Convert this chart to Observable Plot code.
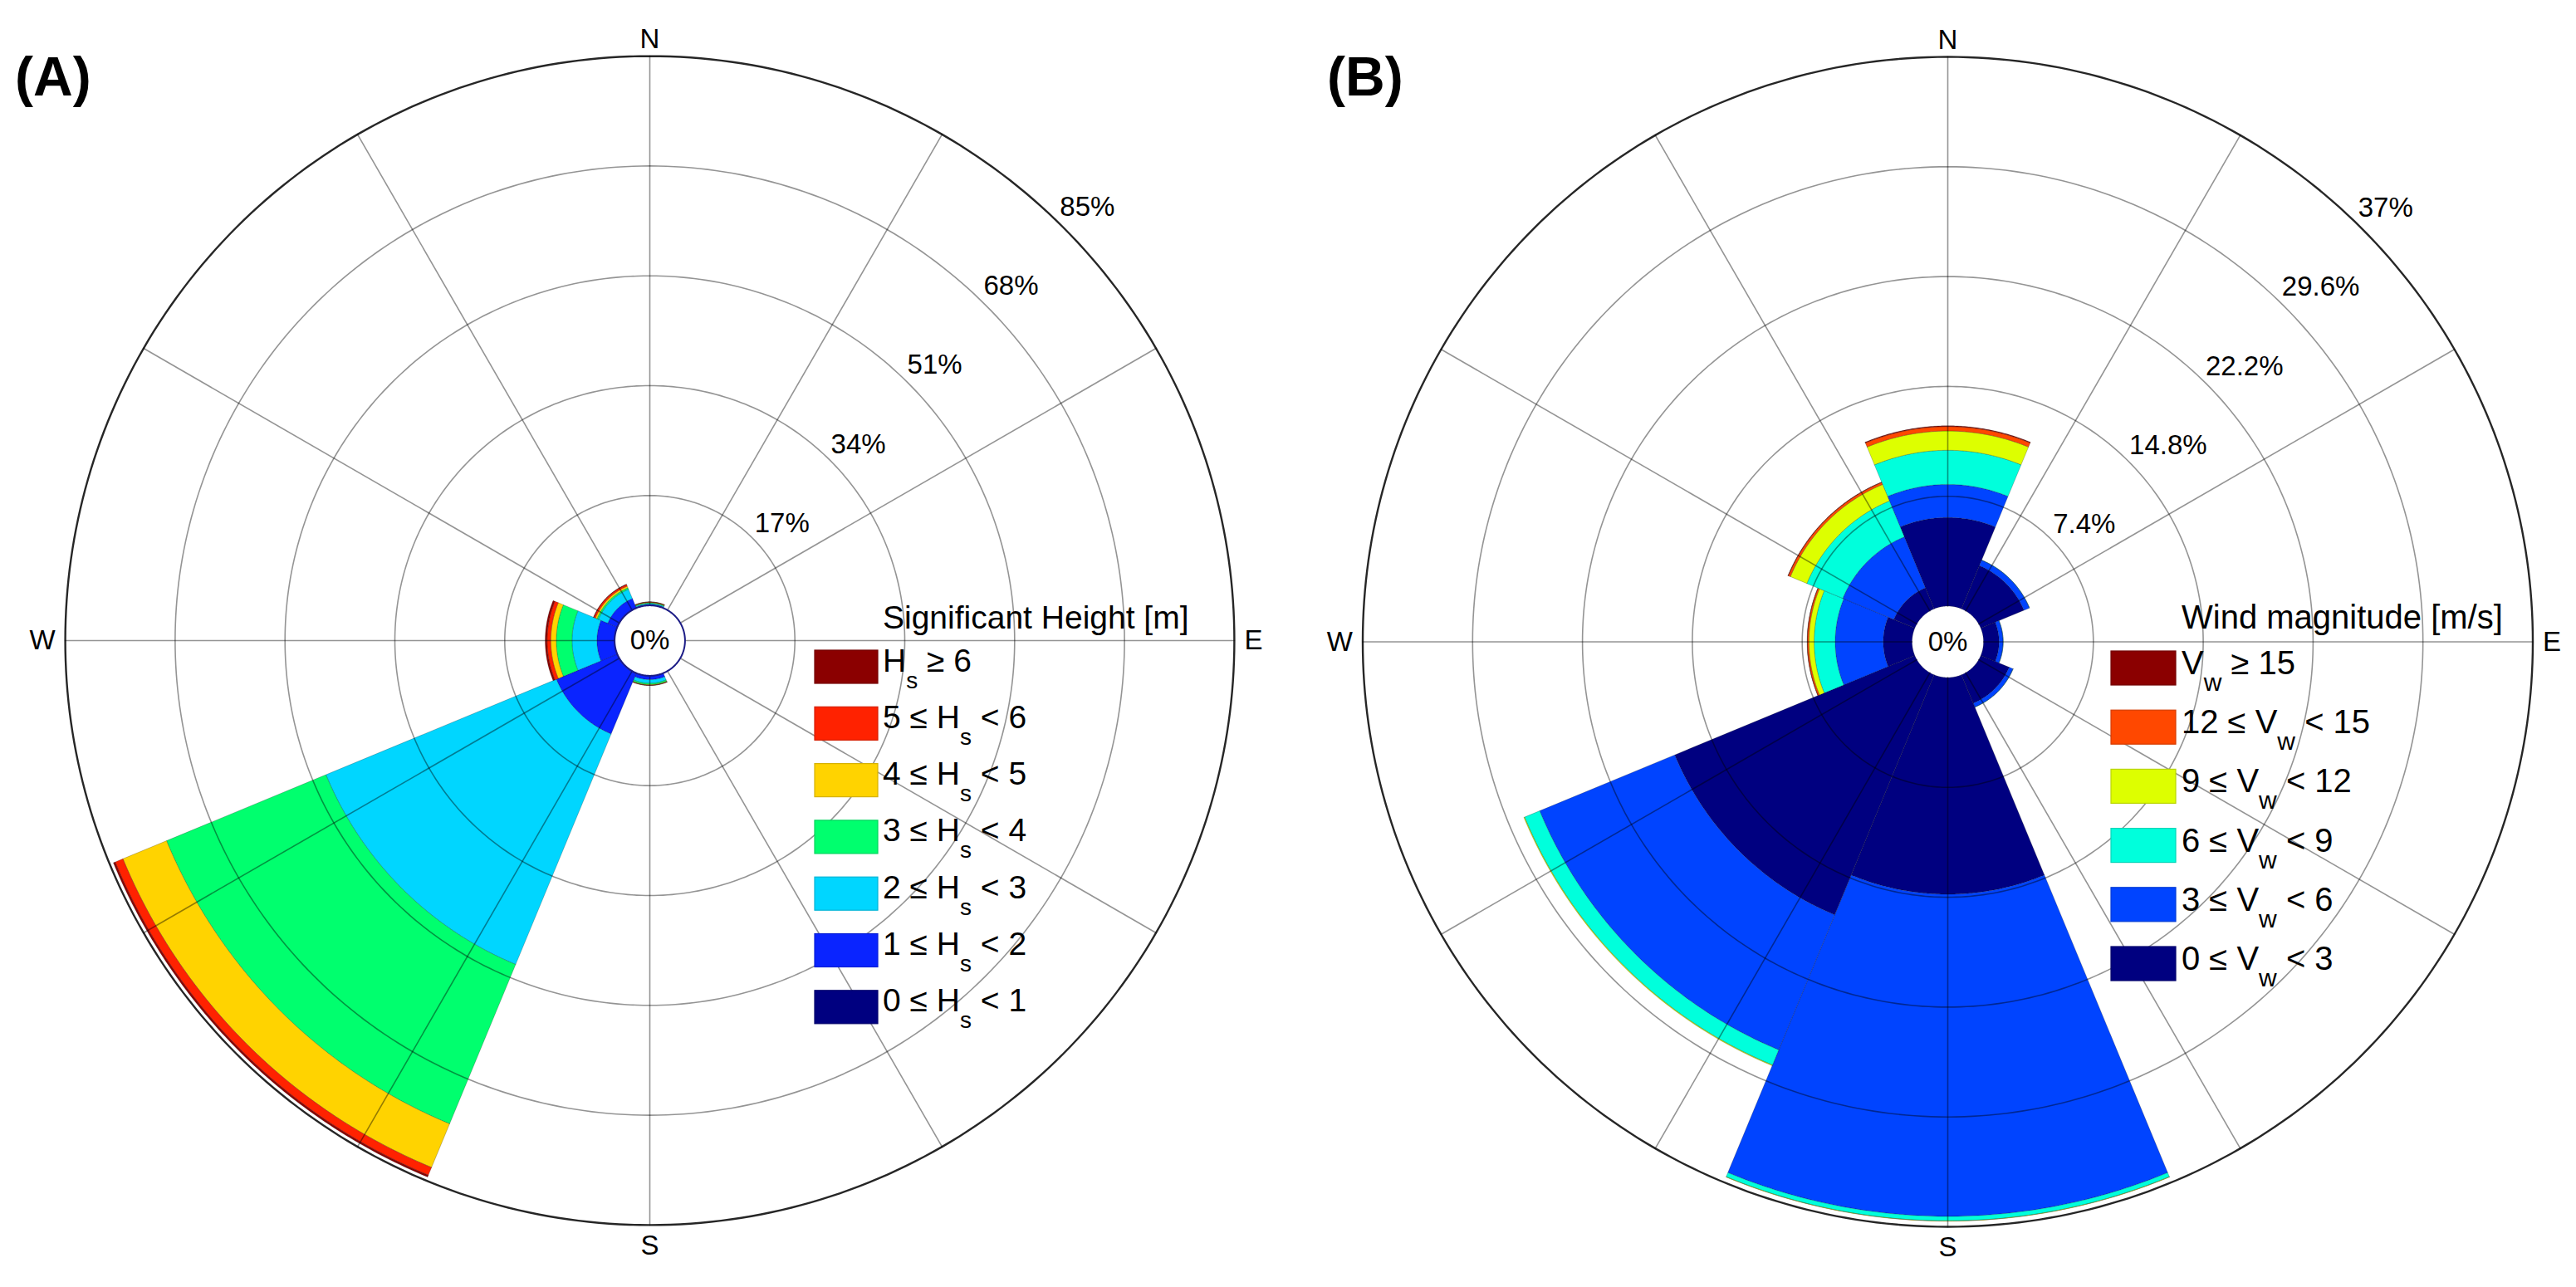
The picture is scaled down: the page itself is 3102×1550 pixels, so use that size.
<!DOCTYPE html>
<html>
<head>
<meta charset="utf-8">
<script src="https://cdn.jsdelivr.net/npm/d3@7"></script>
<script src="https://cdn.jsdelivr.net/npm/@observablehq/plot@0.6"></script>
<style>
  html, body { margin: 0; padding: 0; background: #fff; }
  #wrap { position: relative; width: 3102px; height: 1550px; overflow: hidden; background: #fff; }
  #wrap > svg { position: absolute; top: 0; }
</style>
</head>
<body>
<div id="wrap"></div>
<script>
// ---------------- DATA ----------------
const directions = ["N", "NE", "E", "SE", "S", "SW", "W", "NW"];
const bearings = [0, 45, 90, 135, 180, 225, 270, 315];

// (A) significant wave height: frequency (%) per direction, one array per class
const hsBreaks = [0, 1, 2, 3, 4, 5, 6];
const hsColors = ["#000080", "#0a24ff", "#00d6ff", "#00ff6e", "#ffd300", "#ff2200", "#8b0000"];
const hs_0_1 = [0.05, 0, 0, 0, 0.02, 0.10, 0.05, 0.05];
const hs_1_2 = [0.10, 0, 0, 0, 0.58, 10.10, 2.69, 1.55];
const hs_2_3 = [0.15, 0, 0, 0, 0.55, 38.60, 3.85, 1.55];
const hs_3_4 = [0.10, 0, 0, 0, 0.21, 26.70, 2.44, 0.25];
const hs_4_5 = [0.08, 0, 0, 0, 0.08, 7.30, 0.85, 0.27];
const hs_5_6 = [0.05, 0, 0, 0, 0.05, 1.30, 0.57, 0.26];
const hs_6p  = [0.02, 0, 0, 0, 0.01, 0.30, 0.29, 0.07];
const hsTicks = [17, 34, 51, 68, 85];

// (B) wind magnitude: frequency (%) per direction, one array per class
const vwBreaks = [0, 3, 6, 9, 12, 15];
const vwColors = ["#000080", "#0044ff", "#00ffdc", "#ddff00", "#ff4800", "#8b0000"];
const vw_0_3   = [5.97, 3.15, 1.05, 2.07, 14.60, 17.50, 1.94, 1.53];
const vw_3_6   = [2.23, 0.40, 0.27, 0.28, 21.70, 9.85, 3.24, 3.72];
const vw_6_9   = [2.30, 0.01, 0.01, 0.01, 0.30, 1.10, 1.42, 2.62];
const vw_9_12  = [1.30, 0, 0, 0, 0.02, 0.05, 0.35, 1.20];
const vw_12_15 = [0.30, 0, 0, 0, 0, 0, 0.10, 0.15];
const vw_15p   = [0.05, 0, 0, 0, 0, 0, 0.02, 0.03];
const vwTicks = [7.4, 14.8, 22.2, 29.6, 37];

// ---------------- LAYOUT ----------------
const H = 1550;
const FONT = "Liberation Sans, Arial, Helvetica, sans-serif";

function legendRows(breaks, colors, sym, sub) {
  const rows = [];
  const n = breaks.length;
  for (let i = n - 1; i >= 0; i--) {
    if (i === n - 1) rows.push({color: colors[i], parts: [[sym, 0], [sub, 1], [` \u2265 ${breaks[i]}`, 0]]});
    else rows.push({color: colors[i], parts: [[`${breaks[i]} \u2264 ${sym}`, 0], [sub, 1], [` < ${breaks[i + 1]}`, 0]]});
  }
  return rows;
}

function drawRose(o) {
  const k = o.ringStepPx / o.ticks[0];          // px per percent
  const off = o.holePx / k;                     // hole radius in percent units
  const rMax = off + o.ticks[o.ticks.length - 1];
  const rad = Math.PI / 180;
  const pol = (b, r) => ({x: r * Math.sin(b * rad), y: r * Math.cos(b * rad)});
  const half = 360 / directions.length / 2;

  const wedgePts = [];
  directions.forEach((d, i) => {
    let cum = 0;
    o.series.forEach((s, j) => {
      const v = s.values[i];
      if (!(v > 0)) return;
      const r0 = off + cum, r1 = off + cum + v;
      cum += v;
      const id = d + "|" + j;
      const b0 = bearings[i] - half, b1 = bearings[i] + half;
      const pts = [];
      for (let a = b0; a <= b1 + 1e-9; a += 0.5) pts.push(pol(a, r1));
      for (let a = b1; a >= b0 - 1e-9; a -= 0.5) pts.push(pol(a, r0));
      pts.push(pts[0]);
      pts.forEach(p => wedgePts.push({id, cls: s.key, x: p.x, y: p.y}));
    });
  });

  const ringPts = [];
  o.ticks.slice(0, -1).forEach(t => {
    for (let a = 0; a <= 360; a += 1) ringPts.push({t, ...pol(a, off + t)});
  });
  const outerPts = [];
  for (let a = 0; a <= 360; a += 1) outerPts.push(pol(a, rMax));
  const holePts = [];
  for (let a = 0; a <= 360; a += 1) holePts.push(pol(a, off));
  const spokePts = [];
  for (let a = 0; a < 360; a += 30) { spokePts.push({a, ...pol(a, off)}); spokePts.push({a, ...pol(a, rMax)}); }

  const tickLabels = o.ticks.map(t => ({label: o.fmt(t), ...pol(o.labelBearing, off + t + 7 / k)}));
  const compass = [
    {label: "N", ...pol(0, rMax + 10 / k), ta: "middle", la: "bottom"},
    {label: "S", ...pol(180, rMax + 12 / k), ta: "middle", la: "top"},
    {label: "E", ...pol(90, rMax + 12 / k), ta: "start", la: "middle"},
    {label: "W", ...pol(270, rMax + 12 / k), ta: "end", la: "middle"}
  ];

  const marks = [
    Plot.line(wedgePts, {x: "x", y: "y", z: "id", fill: "cls", stroke: "#000", strokeOpacity: 0.22, strokeWidth: 1, curve: "linear"}),
    Plot.line(ringPts, {x: "x", y: "y", z: "t", stroke: "#000", strokeOpacity: 0.42, strokeWidth: 1.6}),
    Plot.line(spokePts, {x: "x", y: "y", z: "a", stroke: "#000", strokeOpacity: 0.42, strokeWidth: 1.6}),
    Plot.line(outerPts, {x: "x", y: "y", stroke: "#000", strokeOpacity: 0.85, strokeWidth: 2.4}),
    Plot.line(holePts, {x: "x", y: "y", stroke: o.holeStroke, strokeWidth: 2})
  ];
  marks.push(
    Plot.text([{x: 0, y: 0}], {x: "x", y: "y", text: () => "0%", fontSize: 33, fill: "#000"}),
    Plot.text(tickLabels, {x: "x", y: "y", text: "label", fontSize: 33, textAnchor: "start", lineAnchor: "bottom", fill: "#000"})
  );
  for (const c of compass) {
    marks.push(Plot.text([c], {x: "x", y: "y", text: "label", fontSize: 33, textAnchor: c.ta, lineAnchor: c.la, fill: "#000"}));
  }

  const svg = Plot.plot({
    width: o.width, height: H, margin: 0,
    x: {axis: null, domain: [-o.cx / k, (o.width - o.cx) / k], range: [0, o.width]},
    y: {axis: null, domain: [-(H - o.cy) / k, o.cy / k], range: [H, 0]},
    color: {type: "ordinal", domain: o.series.map(s => s.key), range: o.series.map(s => s.color)},
    style: {fontFamily: FONT, background: "white", color: "#000", overflow: "visible"},
    marks
  });
  svg.style.left = o.left + "px";

  // panel tag
  const sel = d3.select(svg);
  sel.append("text").attr("x", o.tagX).attr("y", 115).attr("font-family", FONT).attr("text-anchor", "start")
    .attr("font-weight", "bold").attr("font-size", 66).attr("fill", "#000").text(o.tag);

  // legend
  const L = o.legend;
  const g = sel.append("g").attr("font-family", FONT).attr("fill", "#000").attr("text-anchor", "start");
  g.append("text").attr("x", L.textX).attr("y", L.titleY).attr("font-size", L.fs).text(L.title);
  L.rows.forEach((row, i) => {
    const top = L.swTop + i * L.pitch;
    g.append("rect").attr("x", L.swX).attr("y", top).attr("width", L.swW).attr("height", L.swH)
      .attr("fill", row.color).attr("stroke", d3.color(row.color).darker(0.5)).attr("stroke-width", 1.2);
    const t = g.append("text").attr("x", L.textX).attr("y", top + L.baseOff).attr("font-size", L.fs)
      .style("white-space", "pre");
    let cur = 0;
    row.parts.forEach(([txt, isSub]) => {
      const dy = isSub ? L.subDy - cur : -cur;
      cur = isSub ? L.subDy : 0;
      t.append("tspan").attr("dy", dy).attr("font-size", isSub ? L.subFs : L.fs).text(txt);
    });
  });
  return svg;
}

const wrap = document.getElementById("wrap");

const svgA = drawRose({
  left: 0, width: 1551, cx: 782, cy: 771,
  ringStepPx: 132.3, holePx: 42.4, ticks: hsTicks, fmt: t => t + "%", labelBearing: 44,
  holeStroke: "#1c1c86",
  series: [hs_0_1, hs_1_2, hs_2_3, hs_3_4, hs_4_5, hs_5_6, hs_6p].map((values, j) => ({key: "hs" + j, values, color: hsColors[j]})),
  tag: "(A)", tagX: 18,
  legend: {title: "Significant Height [m]", textX: 1063, titleY: 757, fs: 39, subFs: 28, subDy: 20,
           swX: 981, swW: 76, swH: 40, swTop: 783, pitch: 68.3, baseOff: 25.5,
           rows: legendRows(hsBreaks, hsColors, "H", "s")}
});
wrap.appendChild(svgA);

const svgB = drawRose({
  left: 1551, width: 1551, cx: 794, cy: 772.5,
  ringStepPx: 132.3, holePx: 43, ticks: vwTicks, fmt: t => t + "%", labelBearing: 44,
  holeStroke: "none",
  series: [vw_0_3, vw_3_6, vw_6_9, vw_9_12, vw_12_15, vw_15p].map((values, j) => ({key: "vw" + j, values, color: vwColors[j]})),
  tag: "(B)", tagX: 47,
  legend: {title: "Wind magnitude [m/s]", textX: 1076, titleY: 757, fs: 40, subFs: 30, subDy: 20,
           swX: 991, swW: 78, swH: 41, swTop: 784, pitch: 71.2, baseOff: 28,
           rows: legendRows(vwBreaks, vwColors, "V", "w")}
});
wrap.appendChild(svgB);
</script>
</body>
</html>
